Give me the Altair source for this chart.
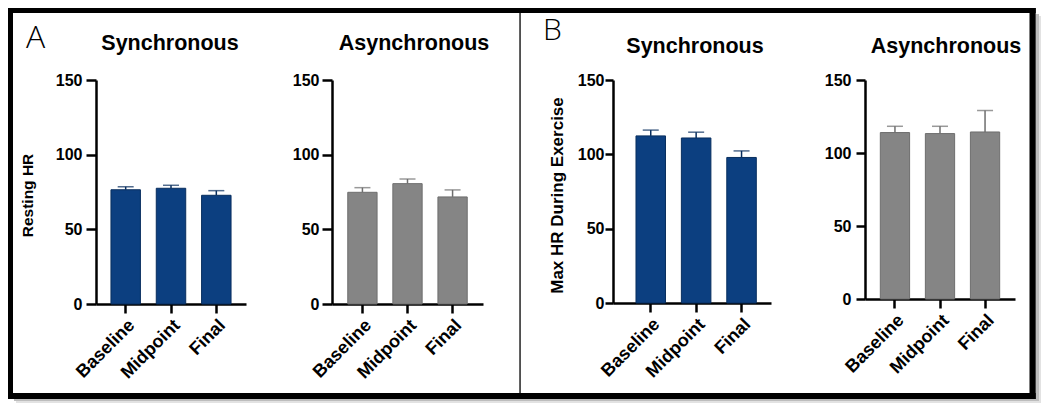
import altair as alt
import pandas as pd

groups = ["Baseline", "Midpoint", "Final"]

rest_sync_mean = [76.5, 77.5, 72.8]
rest_sync_err = [2.0, 2.0, 3.1]
rest_async_mean = [74.8, 80.6, 71.7]
rest_async_err = [3.1, 3.1, 4.7]
max_sync_mean = [112.4, 111.0, 97.9]
max_sync_err = [3.9, 3.9, 4.4]
max_async_mean = [114.0, 113.3, 114.4]
max_async_err = [4.3, 5.0, 14.7]

BLUE = "#0c3f80"
BLUE_EDGE = "#082e5e"
GRAY = "#858585"
GRAY_EDGE = "#6e6e6e"
FONT = "Liberation Sans"

one = pd.DataFrame({"a": [0]})


def axis_y(ytitle, ytx, yty, tsize, lpad, tfs):
    common = dict(values=[0, 50, 100, 150], grid=False, labelFont=FONT,
                  labelFontSize=16, labelFontWeight="bold",
                  labelColor="black", labelPadding=lpad,
                  domainColor="black", domainWidth=2.5,
                  tickColor="black", tickWidth=2.5, tickSize=tsize)
    if ytitle:
        return alt.Axis(title=ytitle, titleFont=FONT, titleFontSize=tfs,
                        titleFontWeight="bold", titleColor="black",
                        titleAngle=270, titleBaseline="middle",
                        titleAlign="center", titleX=ytx, titleY=yty, **common)
    return alt.Axis(title=None, **common)


def panel(mean, err, fill, edge, title, ytitle, width, height, po, align,
          tx, ty, ytx=0, yty=0, tsize=10, lpad=4, tfs=15, extra=None):
    df = pd.DataFrame({"group": groups, "mean": mean,
                       "hi": [m + e for m, e in zip(mean, err)]})
    base = alt.Chart(df)
    x = alt.X("group:N", sort=groups,
              scale=alt.Scale(paddingInner=0.35, paddingOuter=po, align=align),
              axis=alt.Axis(title=None, labelAngle=315, labelFont=FONT,
                            labelFontSize=18, labelFontWeight="bold",
                            labelColor="black", labelPadding=3,
                            domainColor="black", domainWidth=2.5,
                            tickColor="black", tickWidth=2.5, tickSize=9))
    y = alt.Y("mean:Q", scale=alt.Scale(domain=[0, 150], nice=False),
              axis=axis_y(ytitle, ytx, yty, tsize, lpad, tfs))
    bars = base.mark_bar(color=fill, stroke=edge, strokeWidth=1).encode(x=x, y=y)
    rule = base.mark_rule(color=edge, strokeWidth=1.5).encode(
        x=x, y=alt.Y("mean:Q"), y2="hi:Q")
    cap = base.mark_tick(color=edge, thickness=1.5, size=16).encode(
        x=x, y=alt.Y("hi:Q"))
    ttl = alt.Chart(one).mark_text(text=title, font=FONT, fontSize=21.5,
                                   fontWeight="bold", align="center",
                                   baseline="alphabetic", color="black").encode(
        x=alt.value(tx), y=alt.value(ty))
    layers = [rule, cap, bars, ttl]
    if extra:
        layers += extra
    return alt.layer(*layers).properties(width=width, height=height)


def box(x1, x2, y1, y2, color):
    return alt.Chart(one).mark_rect(color=color, strokeWidth=0).encode(
        x=alt.value(x1), x2=alt.value(x2), y=alt.value(y1), y2=alt.value(y2))


# decorations relative to panel 1 plot origin (page x 96, y 80)
deco = [
    # soft drop shadow
    box(-80, 945, 319, 323, "#e2e2e2"),
    box(939.7, 945, -64, 323, "#e2e2e2"),
    box(-82, 943, 319, 321, "#bdbdbd"),
    box(939.7, 943, -66, 321, "#bdbdbd"),
    # black frame
    box(-88, 939.7, -72, -67, "black"),
    box(-88, 939.7, 313, 319, "black"),
    box(-88, -83, -72, 319, "black"),
    box(933.5, 939.7, -72, 319, "black"),
    # divider
    box(423.3, 424.8, -67, 313, "#222222"),
    alt.Chart(one).mark_text(text="A", font="Open Sans", fontSize=32,
                             fontWeight=300, align="left", baseline="middle",
                             color="black").encode(
        x=alt.value(-70), y=alt.value(-42)),
    alt.Chart(one).mark_text(text="B", font="Open Sans", fontSize=30,
                             fontWeight=300, align="left", baseline="middle",
                             color="black").encode(
        x=alt.value(447), y=alt.value(-49)),
]

p1 = panel(rest_sync_mean, rest_sync_err, BLUE, BLUE_EDGE, "Synchronous",
           "Resting HR", 150, 224, 0.33, 0.5, 74, -30, -69, 115,
           tfs=15.5, extra=deco)
p2 = panel(rest_async_mean, rest_async_err, GRAY, GRAY_EDGE, "Asynchronous",
           None, 151, 224, 0.35, 0.5, 82, -30, lpad=3)
p3 = panel(max_sync_mean, max_sync_err, BLUE, BLUE_EDGE, "Synchronous",
           "Max HR During Exercise", 158, 223, 0.415, 0.61, 82, -27, -56, 115,
           tsize=8, lpad=1, tfs=17)
p4 = panel(max_async_mean, max_async_err, GRAY, GRAY_EDGE, "Asynchronous",
           None, 150, 219, 0.34, 0.5, 81, -27, tsize=9, lpad=5)


def spacer(w):
    return alt.Chart(one).mark_point(opacity=0).properties(width=w, height=10)


chart = alt.hconcat(p1, spacer(86), p2, spacer(130), p3, spacer(94), p4,
                    spacing=0, bounds="flush").properties(
    padding=0, background="white"
).configure_view(strokeWidth=0)

chart.save("out.html", embed_options={"renderer": "svg", "actions": False})
